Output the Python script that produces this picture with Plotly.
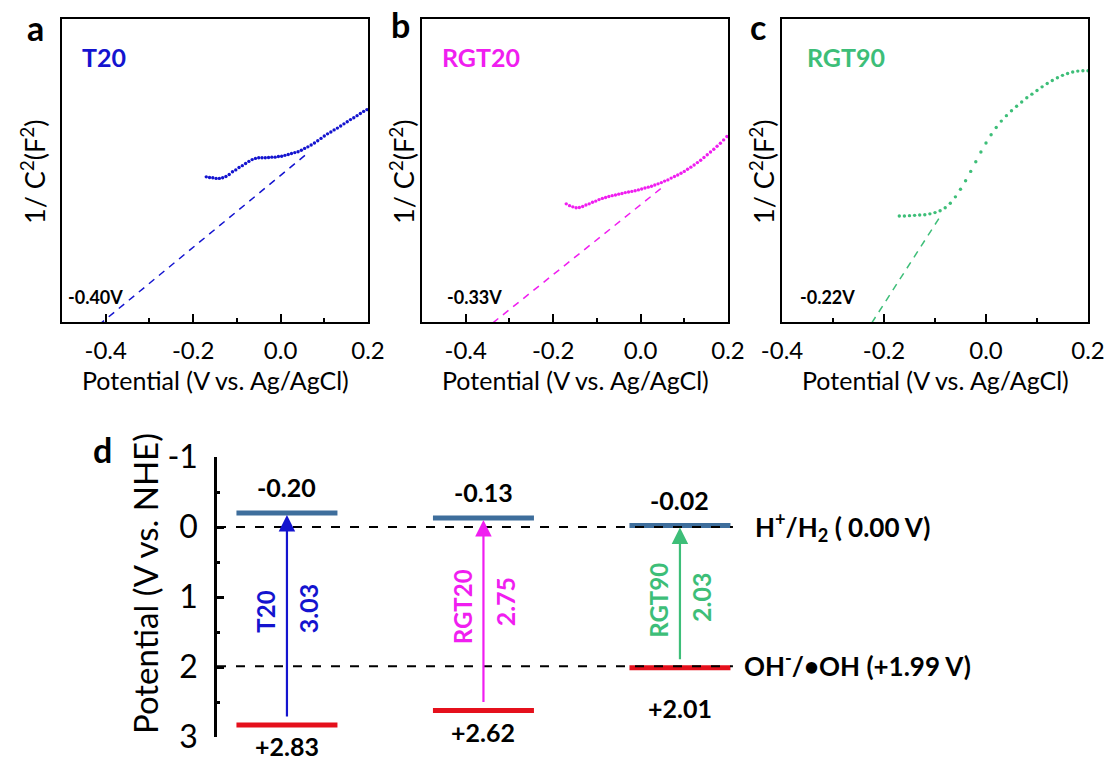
import plotly.graph_objects as go

# ---------------- data ----------------
pot_ab = [-0.170, -0.1625, -0.155, -0.1475, -0.140, -0.1325, -0.125, -0.1175, -0.110, -0.1025,
          -0.095, -0.0875, -0.080, -0.0725, -0.065, -0.0575, -0.050, -0.0425, -0.035, -0.0275,
          -0.020, -0.0125, -0.005, 0.0025, 0.010, 0.0175, 0.025, 0.0325, 0.040, 0.0475,
          0.055, 0.0625, 0.070, 0.0775, 0.085, 0.0925, 0.100, 0.1075, 0.115, 0.1225,
          0.130, 0.1375, 0.145, 0.1525, 0.160, 0.1675, 0.175, 0.1825, 0.190, 0.1975]

inv_c2_T20 = [0.479, 0.477, 0.476, 0.474, 0.474, 0.476, 0.480, 0.487, 0.496, 0.502,
              0.510, 0.516, 0.523, 0.530, 0.536, 0.540, 0.542, 0.542, 0.542, 0.543,
              0.544, 0.544, 0.546, 0.547, 0.550, 0.553, 0.556, 0.559, 0.562, 0.567,
              0.573, 0.578, 0.584, 0.591, 0.598, 0.606, 0.614, 0.621, 0.627, 0.634,
              0.640, 0.647, 0.654, 0.661, 0.668, 0.674, 0.681, 0.688, 0.695, 0.701]

inv_c2_RGT20 = [0.390, 0.384, 0.380, 0.377, 0.378, 0.381, 0.386, 0.390, 0.395, 0.399,
                0.404, 0.408, 0.411, 0.414, 0.417, 0.419, 0.422, 0.424, 0.427, 0.429,
                0.431, 0.433, 0.436, 0.439, 0.442, 0.445, 0.448, 0.452, 0.456, 0.460,
                0.465, 0.469, 0.475, 0.480, 0.485, 0.491, 0.497, 0.504, 0.511, 0.518,
                0.526, 0.534, 0.543, 0.552, 0.561, 0.570, 0.580, 0.590, 0.601, 0.612]

pot_c = [-0.17, -0.16, -0.15, -0.14, -0.13, -0.12, -0.11, -0.10, -0.09, -0.08,
         -0.07, -0.06, -0.05, -0.04, -0.03, -0.02, -0.01, 0.00, 0.01, 0.02,
         0.03, 0.04, 0.05, 0.06, 0.07, 0.08, 0.09, 0.10, 0.11, 0.12,
         0.13, 0.14, 0.15, 0.16, 0.17, 0.18, 0.19, 0.20]

inv_c2_RGT90 = [0.350, 0.350, 0.351, 0.352, 0.353, 0.354, 0.357, 0.361, 0.367, 0.377,
                0.392, 0.413, 0.438, 0.466, 0.497, 0.529, 0.561, 0.591, 0.618, 0.642,
                0.663, 0.681, 0.697, 0.712, 0.726, 0.740, 0.752, 0.764, 0.776, 0.787,
                0.797, 0.806, 0.814, 0.820, 0.825, 0.828, 0.829, 0.829]

# tangent (Mott-Schottky fit) end points
fit_T20_x = [-0.416, 0.066]
fit_T20_y = [-0.010, 0.562]
fit_RGT20_x = [-0.338, 0.052]
fit_RGT20_y = [-0.003, 0.447]
fit_RGT90_x = [-0.224, -0.088]
fit_RGT90_y = [-0.003, 0.353]

flatband = ["-0.40V", "-0.33V", "-0.22V"]
samples = ["T20", "RGT20", "RGT90"]

# band positions (V vs. NHE)
cb = [-0.20, -0.13, -0.02]
vb = [2.83, 2.62, 2.01]
ref_pot = [0.00, 1.99]
ref_names = ["H<sup>+</sup>/H<sub>2</sub> ( 0.00 V)", "OH<sup>-</sup>/\u2022OH (+1.99 V)"]

xt_ab_vals = [-0.4, -0.2, 0.0, 0.2]
xt_ab_text = ["-0.4", "-0.2", "0.0", "0.2"]
xt_c_vals = [-0.4, -0.2, 0.0, 0.2]
xt_c_text = ["-0.4", "-0.2", "0.0", "0.2"]
yt_d_vals = [-1, 0, 1, 2, 3]
yt_d_text = ["-1", "0", "1", "2", "3"]

# ---------------- style ----------------
W, H = 1112, 762
FONT = "Lato"
colors = ["#1414CF", "#F01EF0", "#3DBE78"]
cb_color = "#3E6E9C"
vb_color = "#E5101C"


def px(x):
    return x / W


def py(y):
    return 1 - y / H


panels = [(62, 368), (422, 728), (782, 1088)]  # x domain pixels
ydom_top = (19, 322)

fig = go.Figure()

xs = [pot_ab, pot_ab, pot_c]
series = [inv_c2_T20, inv_c2_RGT20, inv_c2_RGT90]
fits = [(fit_T20_x, fit_T20_y), (fit_RGT20_x, fit_RGT20_y), (fit_RGT90_x, fit_RGT90_y)]
xranges = [[-0.5, 0.2], [-0.5, 0.2], [-0.4, 0.2]]
xticks = [(xt_ab_vals, xt_ab_text), (xt_ab_vals, xt_ab_text), (xt_c_vals, xt_c_text)]

for i in range(3):
    ax = "" if i == 0 else str(i + 1)
    fig.add_trace(go.Scatter(x=fits[i][0], y=fits[i][1], mode="lines",
                             line=dict(color=colors[i], width=1.5, dash="7px,6px"),
                             xaxis="x" + ax, yaxis="y" + ax, showlegend=False))
    fig.add_trace(go.Scatter(x=xs[i], y=series[i], mode="markers",
                             marker=dict(color=colors[i], size=3.4),
                             xaxis="x" + ax, yaxis="y" + ax, showlegend=False))
    x0, x1 = panels[i]
    fig.layout["xaxis" + ax] = dict(
        domain=[px(x0), px(x1)], range=xranges[i], anchor="y" + ax, automargin=False,
        showline=True, linecolor="black", linewidth=2, mirror=True,
        ticks="inside", ticklen=8, tickwidth=2, tickcolor="black",
        tickvals=xticks[i][0], ticktext=xticks[i][1],
        minor=dict(dtick=0.1, tick0=0, ticks="inside", ticklen=4, tickwidth=2, tickcolor="black"),
        tickfont=dict(family=FONT, size=24, color="black"),
        ticklabelstandoff=6, showgrid=False, zeroline=False, fixedrange=True)
    fig.layout["yaxis" + ax] = dict(
        domain=[py(ydom_top[1]), py(ydom_top[0])], range=[0, 1], anchor="x" + ax, automargin=False,
        showline=True, linecolor="black", linewidth=2, mirror=True,
        showticklabels=False, ticks="", showgrid=False, zeroline=False, fixedrange=True)

# ---- panel d ----
pos = [1, 2, 3]
half = 0.257
XD0 = 0.644
xd_range = [XD0, XD0 + (1000 - 217) / 196.5]
for i in range(3):
    for lvl, col in ((cb[i], cb_color), (vb[i], vb_color)):
        fig.add_trace(go.Scatter(x=[pos[i] - half, pos[i] + half], y=[lvl, lvl], mode="lines",
                                 line=dict(color=col, width=5), xaxis="x4", yaxis="y4",
                                 showlegend=False))
for r in ref_pot:
    fig.add_trace(go.Scatter(x=[XD0, 3 + (733 - 680) / 196.5], y=[r, r], mode="lines",
                             line=dict(color="black", width=2, dash="9px,10px"),
                             xaxis="x4", yaxis="y4", showlegend=False))

fig.layout.xaxis4 = dict(domain=[px(217), px(1000)], range=xd_range, anchor="y4",
                         visible=False, fixedrange=True, automargin=False)
fig.layout.yaxis4 = dict(domain=[py(737), py(457)], range=[3, -1], anchor="x4", automargin=False,
                         showline=True, linecolor="black", linewidth=2.5,
                         ticks="inside", ticklen=7, tickwidth=2.5, tickcolor="black",
                         tickvals=yt_d_vals, ticktext=yt_d_text,
                         minor=dict(tickvals=[-0.5, 0.5, 1.5, 2.5], ticks="inside", ticklen=3,
                                    tickwidth=2.5, tickcolor="black"),
                         tickfont=dict(family=FONT, size=32, color="black"),
                         ticklabelstandoff=10, showgrid=False, zeroline=False, fixedrange=True)

ann = []


def text(x, y, s, size, color="black", bold=False, angle=0, xanchor="center", yanchor="middle"):
    ann.append(dict(x=px(x), y=py(y), xref="paper", yref="paper", text=("<b>%s</b>" % s) if bold else s,
                    showarrow=False, textangle=angle, xanchor=xanchor, yanchor=yanchor,
                    font=dict(family=FONT, size=size, color=color)))


# panel letters
text(35, 27, "a", 34, bold=True)
text(400, 25, "b", 34, bold=True)
text(758, 26, "c", 34, bold=True)
text(103, 449, "d", 34, bold=True)

# sample labels
for i, cx in enumerate([104, 481, 846]):
    text(cx, 57, samples[i], 25, color=colors[i], bold=True)
# flat-band potentials
for i, cx in enumerate([95, 474, 827]):
    text(cx, 297, flatband[i], 18, bold=True)
# axis titles
for cx in [33, 402, 762]:
    text(cx, 172, "1/ C<sup>2</sup>(F<sup>2</sup>)", 27, angle=-90)
for cx in [215, 575, 935]:
    text(cx, 380, "Potential (V vs. Ag/AgCl)", 25)
text(145, 584, "Potential (V vs. NHE)", 33, angle=-90)

# panel d annotations
vb_shift = [-21, -22, -40]
name_y = [1.21, 1.14, 1.04]
gap_y = [1.16, 1.07, 1.00]
for i in range(3):
    ann.append(dict(x=pos[i], y=cb[i], ax=pos[i], ay=vb[i], xref="x4", yref="y4",
                    axref="x4", ayref="y4", showarrow=True, arrowhead=2, arrowsize=1.5,
                    arrowwidth=2.2, arrowcolor=colors[i], standoff=2, startstandoff=7, text=""))
    ann.append(dict(x=pos[i], y=cb[i], xref="x4", yref="y4", showarrow=False, yshift=26,
                    text="<b>%.2f</b>" % cb[i],
                    font=dict(family=FONT, size=25, color="black")))
    ann.append(dict(x=pos[i], y=vb[i], xref="x4", yref="y4", showarrow=False, yshift=vb_shift[i],
                    text="<b>+%.2f</b>" % vb[i], borderpad=0,
                    font=dict(family=FONT, size=25, color="black")))
    ann.append(dict(x=pos[i], y=name_y[i], xref="x4", yref="y4", showarrow=False, xshift=-21,
                    textangle=-90, text="<b>%s</b>" % samples[i],
                    font=dict(family=FONT, size=24, color=colors[i])))
    ann.append(dict(x=pos[i], y=gap_y[i], xref="x4", yref="y4", showarrow=False, xshift=21,
                    textangle=-90, text="<b>%.2f</b>" % (vb[i] - cb[i]),
                    font=dict(family=FONT, size=25, color=colors[i])))

ref_x = [3 + (753 - 680) / 196.5, 3 + (742 - 680) / 196.5]
ref_dy = [0, -0.03]
for i in range(2):
    ann.append(dict(x=ref_x[i], y=ref_pot[i] + ref_dy[i], xref="x4", yref="y4", showarrow=False,
                    xanchor="left", text="<b>%s</b>" % ref_names[i],
                    font=dict(family=FONT, size=26, color="black")))

fig.update_layout(width=W, height=H, margin=dict(l=0, r=0, t=0, b=0, pad=0, autoexpand=False),
                  autosize=False, paper_bgcolor="white", plot_bgcolor="white", annotations=ann,
                  showlegend=False)

fig.write_html("out.html", config={"responsive": False, "displayModeBar": False},
               post_script="document.body.style.margin='0';document.body.style.padding='0';"
                           "document.body.style.overflow='hidden';"
                           "document.documentElement.style.overflow='hidden';")
